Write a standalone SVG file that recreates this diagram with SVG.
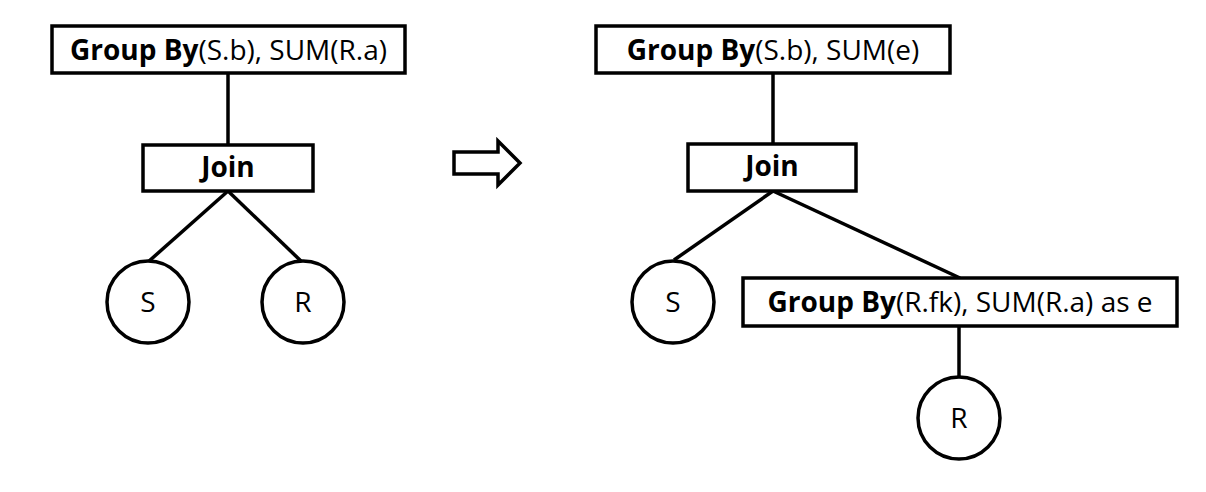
<svg xmlns="http://www.w3.org/2000/svg" width="1206" height="492" viewBox="0 0 1206 492">
<style>
.box{fill:#fff;stroke:#000;stroke-width:3.5}
.circ{fill:#fff;stroke:#000;stroke-width:3.5}
.conn{stroke:#000;stroke-width:3.5;fill:none}
text{font-family:"Open Sans","Liberation Sans",sans-serif;font-size:28px;fill:#000;text-anchor:middle}
.b{font-weight:bold}
</style>
<rect width="1206" height="492" fill="#fff"/>
<g id="connectors">
<line class="conn" x1="228" y1="73" x2="228" y2="145"/>
<line class="conn" x1="228" y1="191" x2="148" y2="262"/>
<line class="conn" x1="228" y1="191" x2="302" y2="262"/>
<line class="conn" x1="773" y1="73" x2="773" y2="144"/>
<line class="conn" x1="773" y1="191" x2="674" y2="260"/>
<line class="conn" x1="773" y1="191" x2="960" y2="278"/>
<line class="conn" x1="959" y1="326" x2="959" y2="376"/>
</g>
<g id="left-groupby">
<rect class="box" x="52" y="26" width="353" height="47"/>
<text x="228.5" y="60"><tspan class="b">Group By</tspan>(S.b), SUM(R.a)</text>
</g>
<g id="left-join">
<rect class="box" x="143" y="145" width="170" height="46"/>
<text x="228" y="177" class="b">Join</text>
</g>
<g id="left-S">
<circle class="circ" cx="148" cy="302" r="41"/>
<text x="148" y="312">S</text>
</g>
<g id="left-R">
<circle class="circ" cx="303" cy="302" r="41"/>
<text x="303" y="312">R</text>
</g>
<g id="arrow">
<path d="M454,152 H498 V141 L520,163 L498,185 V174 H454 Z" fill="#fff" stroke="#000" stroke-width="3.5" stroke-linejoin="miter"/>
</g>
<g id="right-groupby">
<rect class="box" x="596" y="26" width="354" height="47"/>
<text x="773" y="60"><tspan class="b">Group By</tspan>(S.b), SUM(e)</text>
</g>
<g id="right-join">
<rect class="box" x="688" y="144" width="168" height="47"/>
<text x="772" y="176" class="b">Join</text>
</g>
<g id="right-S">
<circle class="circ" cx="673" cy="302" r="41"/>
<text x="673" y="312">S</text>
</g>
<g id="right-groupby2">
<rect class="box" x="743" y="278" width="434" height="48"/>
<text x="960" y="312"><tspan class="b">Group By</tspan>(R.fk), SUM(R.a) as e</text>
</g>
<g id="right-R">
<circle class="circ" cx="959" cy="418" r="41"/>
<text x="959" y="428">R</text>
</g>
</svg>
